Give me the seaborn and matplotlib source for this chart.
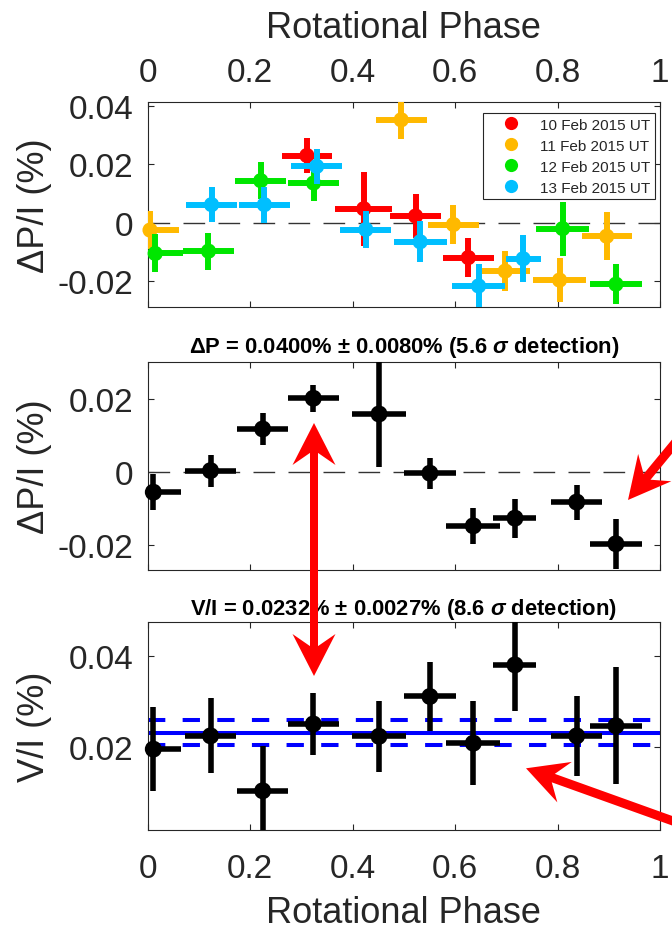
import numpy as np
import pandas as pd
import matplotlib
matplotlib.use("Agg")
import matplotlib.pyplot as plt
import seaborn as sns
from matplotlib.patches import Polygon
from matplotlib.lines import Line2D

# ---------------- data ----------------
day_labels = ["10 Feb 2015 UT", "11 Feb 2015 UT", "12 Feb 2015 UT", "13 Feb 2015 UT"]
day_colors = ["#FF0000", "#FFB900", "#00E600", "#00BFFF"]

phase_10 = [0.311, 0.422, 0.523, 0.626]
dp_10 = [0.0230, 0.0048, 0.0023, -0.0119]
xerr_10 = [0.049, 0.056, 0.049, 0.050]
yerr_10 = [0.0059, 0.0126, 0.0075, 0.0067]

phase_11 = [0.005, 0.495, 0.597, 0.698, 0.804, 0.896]
dp_11 = [-0.0025, 0.0352, -0.0006, -0.0165, -0.0196, -0.0046]
xerr_11 = [0.057, 0.050, 0.050, 0.049, 0.051, 0.049]
yerr_11 = [0.0064, 0.0066, 0.0067, 0.0068, 0.0074, 0.0082]

phase_12 = [0.015, 0.119, 0.221, 0.324, 0.810, 0.914]
dp_12 = [-0.0105, -0.0097, 0.0144, 0.0136, -0.0020, -0.0210]
xerr_12 = [0.054, 0.050, 0.050, 0.050, 0.051, 0.050]
yerr_12 = [0.0065, 0.0063, 0.0064, 0.0063, 0.0092, 0.0069]

phase_13 = [0.125, 0.228, 0.330, 0.426, 0.532, 0.646, 0.733]
dp_13 = [0.0062, 0.0062, 0.0193, -0.0023, -0.0065, -0.0216, -0.0123]
xerr_13 = [0.050, 0.050, 0.050, 0.050, 0.052, 0.051, 0.034]
yerr_13 = [0.0061, 0.0062, 0.0060, 0.0064, 0.0070, 0.0074, 0.0080]

phase_bin = [0.0114, 0.123, 0.2247, 0.3235, 0.4517, 0.551, 0.6357, 0.717, 0.8374, 0.914]
xerr_bin = [0.053, 0.050, 0.050, 0.050, 0.052, 0.050, 0.053, 0.042, 0.050, 0.050]
dp_bin = [-0.0055, 0.0004, 0.0118, 0.0202, 0.0159, -0.0003, -0.0147, -0.0126, -0.0082, -0.0196]
dp_bin_err = [0.0050, 0.0044, 0.0045, 0.0037, 0.0146, 0.0042, 0.0049, 0.0053, 0.0048, 0.0068]
vi_bin = [0.0196, 0.0225, 0.0105, 0.0251, 0.0224, 0.0311, 0.0209, 0.0380, 0.0225, 0.0247]
vi_bin_err = [0.0092, 0.0082, 0.0098, 0.0068, 0.0078, 0.0076, 0.0092, 0.0100, 0.0088, 0.0128]

vi_mean = 0.0232
vi_mean_err = 0.0027

x_ticks = [0, 0.2, 0.4, 0.6, 0.8, 1.0]
x_ticklabels = ["0", "0.2", "0.4", "0.6", "0.8", "1"]
top_yticks = [-0.02, 0, 0.02, 0.04]
top_yticklabels = ["-0.02", "0", "0.02", "0.04"]
mid_yticks = [-0.02, 0, 0.02]
mid_yticklabels = ["-0.02", "0", "0.02"]
bot_yticks = [0.02, 0.04]
bot_yticklabels = ["0.02", "0.04"]

title_mid = "ΔP = 0.0400% ± 0.0080% (5.6 $\\sigma$ detection)"
title_bot = "V/I = 0.0232% ± 0.0027% (8.6 $\\sigma$ detection)"

# ---------------- style ----------------
sns.set_theme(style="white")
plt.rcParams["font.family"] = ["Liberation Sans", "DejaVu Sans"]
plt.rcParams["axes.unicode_minus"] = False
plt.rcParams["mathtext.fontset"] = "custom"
plt.rcParams["mathtext.it"] = "Liberation Sans:italic:bold"
plt.rcParams["mathtext.rm"] = "Liberation Sans:bold"
plt.rcParams["mathtext.bf"] = "Liberation Sans:bold"

DARK = "#262626"
W, H = 672, 929
fig = plt.figure(figsize=(W / 100, H / 100), dpi=100)


def axes_px(x0, x1, y0, y1):
    return fig.add_axes([x0 / W, (H - y1) / H, (x1 - x0) / W, (y1 - y0) / H])


ax_top = axes_px(147.5, 660, 103, 308)
ax_mid = axes_px(147.5, 660, 362.7, 570.7)
ax_bot = axes_px(147.5, 660, 623.3, 830.7)

TICK_FS = 24
LABEL_FS = 26
YLABEL_X = -0.186


def style_axes(ax, yticks, yticklabels, ylim):
    ax.set_xlim(0, 1)
    ax.set_ylim(*ylim)
    ax.set_xticks(x_ticks)
    ax.set_yticks(yticks)
    ax.set_yticklabels(yticklabels)
    for s in ax.spines.values():
        s.set_visible(True)
        s.set_color(DARK)
        s.set_linewidth(0.8)
    ax.tick_params(axis="both", which="both", direction="in", length=4, width=0.8,
                   color=DARK, labelcolor=DARK, labelsize=TICK_FS,
                   top=True, bottom=True, left=True, right=True)
    ax.tick_params(axis="y", pad=10)
    ax.set_facecolor("white")


# ---------------- top panel ----------------
top_sets = [
    (phase_10, dp_10, xerr_10, yerr_10),
    (phase_11, dp_11, xerr_11, yerr_11),
    (phase_12, dp_12, xerr_12, yerr_12),
    (phase_13, dp_13, xerr_13, yerr_13),
]
style_axes(ax_top, top_yticks, top_yticklabels, (-0.0288, 0.0413))
ax_top.axhline(0, color="#333333", lw=1.0, ls=(0, (15.6, 9.6)), zorder=1)
for i, ((ph, dp, xe, ye), lab, col) in enumerate(zip(top_sets, day_labels, day_colors)):
    z = 3 + i
    ax_top.errorbar(ph, dp, xerr=xe, yerr=ye, fmt="none", ecolor=col,
                    elinewidth=4.3, capsize=0, zorder=z)
    df = pd.DataFrame({"phase": ph, "dp": dp})
    sns.scatterplot(data=df, x="phase", y="dp", ax=ax_top, color=col, s=120,
                    edgecolor="none", linewidth=0, zorder=z + 0.5, clip_on=False,
                    legend=False)
ax_top.tick_params(axis="x", labeltop=True, labelbottom=False, pad=10)
ax_top.xaxis.set_label_position("top")
ax_top.set_xticklabels(x_ticklabels)
ax_top.set_xlabel("Rotational Phase", fontsize=LABEL_FS, color=DARK)
ax_top.xaxis.set_label_coords(0.5, 1.3156)
ax_top.set_ylabel("ΔP/I (%)", fontsize=LABEL_FS, color=DARK)
ax_top.yaxis.set_label_coords(YLABEL_X, 0.5)

handles = [Line2D([], [], ls="", marker="o", markersize=9.5, color=c, markeredgewidth=0)
           for c in day_colors]
leg = ax_top.legend(handles, day_labels, loc="upper right", bbox_to_anchor=(0.990, 0.946),
                    frameon=True, fancybox=False, edgecolor=DARK, framealpha=1,
                    fontsize=11, handlelength=3.1, handletextpad=0.34, borderpad=0.3,
                    labelspacing=0.46, borderaxespad=0)
leg.get_frame().set_linewidth(0.8)
for t in leg.get_texts():
    t.set_color(DARK)

# ---------------- middle panel ----------------
style_axes(ax_mid, mid_yticks, mid_yticklabels, (-0.0267, 0.0302))
ax_mid.axhline(0, color="#333333", lw=1.0, ls=(0, (15.6, 9.6)), zorder=1)
ax_mid.errorbar(phase_bin, dp_bin, xerr=xerr_bin, yerr=dp_bin_err, fmt="none",
                ecolor="black", elinewidth=4.0, capsize=0, zorder=3)
df_mid = pd.DataFrame({"phase": phase_bin, "dp": dp_bin})
sns.scatterplot(data=df_mid, x="phase", y="dp", ax=ax_mid, color="black", s=150,
                edgecolor="none", linewidth=0, zorder=4, clip_on=False, legend=False)
ax_mid.tick_params(axis="x", labelbottom=False, labeltop=False)
ax_mid.set_xlabel("")
ax_mid.set_ylabel("ΔP/I (%)", fontsize=LABEL_FS, color=DARK)
ax_mid.yaxis.set_label_coords(YLABEL_X, 0.5)
ax_mid.set_title(title_mid, fontsize=15.8, fontweight="bold", color="black", pad=6.8)

# ---------------- bottom panel ----------------
style_axes(ax_bot, bot_yticks, bot_yticklabels, (0.002, 0.0473))
ax_bot.axhline(vi_mean, color="#0000FF", lw=2.9, zorder=2)
ax_bot.axhline(vi_mean + vi_mean_err, color="#0000FF", lw=2.9, ls=(0, (4.3, 4.3)), zorder=2)
ax_bot.axhline(vi_mean - vi_mean_err, color="#0000FF", lw=2.9, ls=(0, (4.3, 4.3)), zorder=2)
ax_bot.errorbar(phase_bin, vi_bin, xerr=xerr_bin, yerr=vi_bin_err, fmt="none",
                ecolor="black", elinewidth=4.0, capsize=0, zorder=3)
df_bot = pd.DataFrame({"phase": phase_bin, "vi": vi_bin})
sns.scatterplot(data=df_bot, x="phase", y="vi", ax=ax_bot, color="black", s=150,
                edgecolor="none", linewidth=0, zorder=4, clip_on=False, legend=False)
ax_bot.set_xticklabels(x_ticklabels)
ax_bot.tick_params(axis="x", labelbottom=True, pad=17)
ax_bot.set_xlabel("Rotational Phase", fontsize=LABEL_FS, color=DARK)
ax_bot.xaxis.set_label_coords(0.5, -0.313)
ax_bot.set_ylabel("V/I (%)", fontsize=LABEL_FS, color=DARK)
ax_bot.yaxis.set_label_coords(YLABEL_X, 0.5)
ax_bot.set_title(title_bot, fontsize=15.8, fontweight="bold", color="black", pad=6.0)


# ---------------- red annotation arrows (figure pixels) ----------------
def to_in(p):
    return ((p[0]) / 100.0, (H - p[1]) / 100.0)


def head_poly(tip, u, L, Wd, notch, lw):
    tip = np.array(tip, float)
    n = np.array([-u[1], u[0]])
    pts = [tip,
           tip + u * L + n * Wd / 2,
           tip + u * (L - notch) + n * lw / 2,
           tip + u * (L - notch) - n * lw / 2,
           tip + u * L - n * Wd / 2]
    return pts


def add_poly(pts):
    fig.add_artist(Polygon([to_in(p) for p in pts], closed=True, facecolor="#FF0000",
                           edgecolor="none", transform=fig.dpi_scale_trans, zorder=10,
                           clip_on=False))


def shaft(p0, p1, lw):
    p0 = np.array(p0, float)
    p1 = np.array(p1, float)
    u = (p1 - p0) / np.linalg.norm(p1 - p0)
    n = np.array([-u[1], u[0]])
    add_poly([p0 + n * lw / 2, p1 + n * lw / 2, p1 - n * lw / 2, p0 - n * lw / 2])


def arrow(tip, tail, L=42, Wd=43, notch=12, lw=8.5, double=False):
    tip = np.array(tip, float)
    tail = np.array(tail, float)
    u = (tail - tip) / np.linalg.norm(tail - tip)
    start = tip + u * (L - notch - 1)
    end = tail - u * (L - notch - 1) if double else tail
    shaft(start, end, lw)
    add_poly(head_poly(tip, u, L, Wd, notch, lw))
    if double:
        add_poly(head_poly(tail, -u, L, Wd, notch, lw))


arrow((314, 424), (314, 677), L=42, Wd=43, notch=12, lw=8.3, double=True)
arrow((628, 501), (628 + 0.636 * 160, 501 - 0.771 * 160), L=42, Wd=43, notch=12, lw=9)
arrow((526, 769.3), (526 + 0.942 * 260, 769.3 + 0.338 * 260), L=41, Wd=43, notch=12, lw=9)

fig.savefig("out.png", dpi=100)
